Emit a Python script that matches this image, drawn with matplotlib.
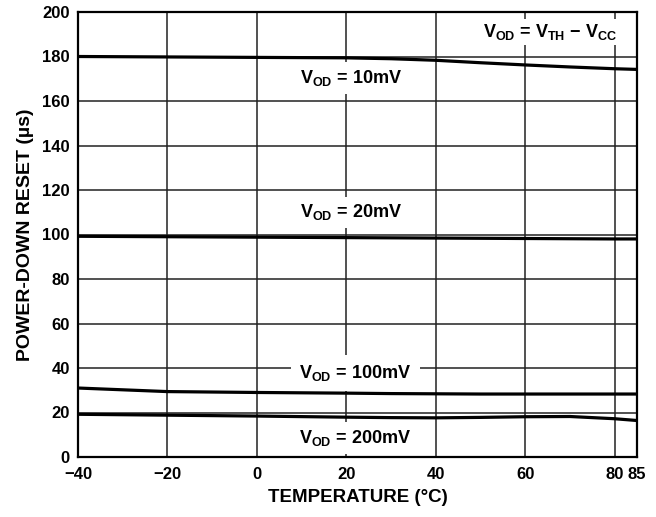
import numpy as np
import matplotlib
matplotlib.use("Agg")
import matplotlib.pyplot as plt

plt.rcParams['font.family'] = ['Liberation Sans', 'DejaVu Sans']
plt.rcParams['mathtext.fontset'] = 'custom'
plt.rcParams['mathtext.rm'] = 'Liberation Sans:bold'
plt.rcParams['mathtext.bf'] = 'Liberation Sans:bold'
plt.rcParams['mathtext.default'] = 'bf'

# temperature points
temp = [-40, -20, 0, 20, 30, 40, 50, 60, 70, 80, 85]
vod_10mv = [180, 179.8, 179.6, 179.4, 179.0, 178.3, 177.2, 176.2, 175.3, 174.5, 174.2]
vod_20mv = [99.2, 99.0, 98.8, 98.6, 98.5, 98.4, 98.3, 98.2, 98.1, 98.0, 98.0]
vod_100mv = [31.0, 29.4, 29.0, 28.7, 28.5, 28.4, 28.3, 28.3, 28.3, 28.3, 28.3]
vod_200mv = [19.2, 18.8, 18.4, 17.9, 17.7, 17.6, 17.8, 18.1, 18.2, 17.2, 16.4]

xticks = [-40, -20, 0, 20, 40, 60, 80, 85]
xticklabels = ['\u221240', '\u221220', '0', '20', '40', '60', '80', '85']
yticks = list(range(0, 201, 20))

fig = plt.figure(figsize=(6.56, 5.17), dpi=100)
ax = fig.add_axes([78 / 656, 1 - 457 / 517, 559 / 656, 445 / 517])

for xv in [-20, 0, 20, 40, 60, 80]:
    ax.axvline(xv, color='#222222', lw=1.1, zorder=1)
for yv in yticks[1:-1]:
    ax.axhline(yv, color='#222222', lw=1.1, zorder=1)

for series in [vod_10mv, vod_20mv, vod_100mv, vod_200mv]:
    ax.plot(temp, series, color='black', lw=2.3, zorder=4)

fs = 13
box = dict(facecolor='white', edgecolor='none', pad=4)
ax.text(21, 170.3, 'V$_{OD}$ = 10mV', ha='center', va='center', fontsize=fs,
        fontweight='bold', bbox=box, zorder=3)
ax.text(21, 110, 'V$_{OD}$ = 20mV', ha='center', va='center', fontsize=fs,
        fontweight='bold', bbox=box, zorder=3)
ax.text(22, 37.7, 'V$_{OD}$ = 100mV', ha='center', va='center', fontsize=fs,
        fontweight='bold', bbox=dict(facecolor='white', edgecolor='none', pad=6), zorder=3)
ax.text(22, 8.5, 'V$_{OD}$ = 200mV', ha='center', va='center', fontsize=fs,
        fontweight='bold', bbox=box, zorder=3)
ax.text(65.5, 191, 'V$_{OD}$ = V$_{TH}$ \u2212 V$_{CC}$', ha='center', va='center',
        fontsize=fs, fontweight='bold', bbox=dict(facecolor='white', edgecolor='none', pad=2),
        zorder=3)

ax.set_xlim(-40, 85)
ax.set_ylim(0, 200)
ax.set_xticks(xticks)
ax.set_xticklabels(xticklabels)
ax.set_yticks(yticks)
ax.tick_params(length=0, labelsize=12)
ax.tick_params(axis='x', pad=7)
ax.tick_params(axis='y', pad=6)
for lab in ax.get_xticklabels() + ax.get_yticklabels():
    lab.set_fontweight('bold')
for s in ax.spines.values():
    s.set_linewidth(1.6)
    s.set_zorder(5)

ax.set_xlabel('TEMPERATURE (\u00b0C)', fontsize=13.5, fontweight='bold', labelpad=5)
ax.set_ylabel('POWER-DOWN RESET (\u00b5s)', fontsize=14, fontweight='bold', labelpad=6)

fig.savefig('out.png', dpi=100)
